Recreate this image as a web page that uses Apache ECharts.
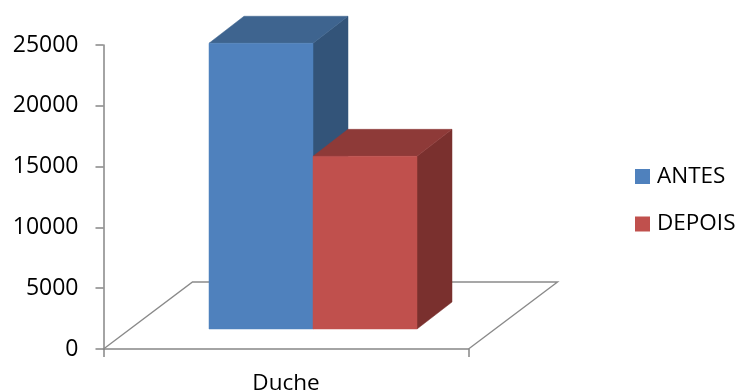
<!DOCTYPE html>
<html>
<head>
<meta charset="utf-8">
<style>html,body{margin:0;padding:0;background:#fff}#c{width:738px;height:392px}</style>
<script src="https://cdn.jsdelivr.net/npm/echarts@6/dist/echarts.min.js"></script>
</head>
<body>
<div id="c"></div>
<script>
// Values and labels
const categories = ['Duche'];
const antes = [23500];
const depois = [14200];
const yMax = 25000;
const yStep = 5000;

// Oblique projection used for the floor and the boxes
const floorDepth = [89, -67];
const boxDepth = [35, -27];
const barShare = 104 / 365;

const shade = {
  antes: { front: '#4F81BD', top: '#3E648F', side: '#335479' },
  depois: { front: '#C0504D', top: '#8E3A38', side: '#7A302E' }
};

function poly(points, fill) {
  return { type: 'polygon', shape: { points }, style: { fill, stroke: fill, lineWidth: 0.5 } };
}

// One box: side 0 sits left of the category centre, side 1 right of it
function boxRenderer(side, colors) {
  return function (params, api) {
    const top = api.coord([api.value(0), api.value(1)]);
    const zero = api.coord([api.value(0), 0]);
    const band = api.size([1, 0])[0];
    const w = band * barShare;
    const inset = [(floorDepth[0] - boxDepth[0]) / 2, (floorDepth[1] - boxDepth[1]) / 2];
    const x0 = zero[0] + inset[0] + (side - 1) * w;
    const x1 = x0 + w;
    const yb = zero[1] + inset[1];
    const yt = top[1] + inset[1];
    const [dx, dy] = boxDepth;
    return {
      type: 'group',
      children: [
        poly([[x1, yt], [x1 + dx, yt + dy], [x1 + dx, yb + dy], [x1, yb]], colors.side),
        poly([[x0, yt], [x0 + dx, yt + dy], [x1 + dx, yt + dy], [x1, yt]], colors.top),
        poly([[x0, yt], [x1, yt], [x1, yb], [x0, yb]], colors.front)
      ]
    };
  };
}

// Back and right edges of the floor; the front edge is the category axis
function floorRenderer(params, api) {
  const c = api.coord([api.value(0), 0]);
  const band = api.size([1, 0])[0];
  const l = c[0] - band / 2;
  const r = c[0] + band / 2;
  const y = c[1];
  const [dx, dy] = floorDepth;
  return {
    type: 'polyline',
    shape: { points: [[l, y], [l + dx, y + dy], [r + dx, y + dy], [r, y]] },
    style: { fill: null, stroke: '#8A8A8A', lineWidth: 1.4 }
  };
}

const chart = echarts.init(document.getElementById('c'), null, { renderer: 'canvas' });
const font = '"Open Sans", sans-serif';

chart.setOption({
  animation: false,
  backgroundColor: '#ffffff',
  grid: { left: 103.5, top: 45, width: 365, height: 304, outerBoundsMode: 'none' },
  legend: {
    orient: 'vertical',
    left: 630,
    top: 160,
    itemWidth: 15,
    itemHeight: 15,
    itemGap: 24.5,
    icon: 'rect',
    data: ['ANTES', 'DEPOIS'],
    textStyle: { fontFamily: font, fontSize: 22.5, lineHeight: 20, color: '#000', padding: [2, 0, 0, 2] }
  },
  xAxis: {
    type: 'category',
    data: categories,
    axisLine: { lineStyle: { color: '#868686', width: 1.5 } },
    axisTick: { show: true, length: 8, lineStyle: { color: '#868686', width: 1.5 } },
    axisLabel: { fontFamily: font, fontSize: 22.5, color: '#000', margin: 23 }
  },
  yAxis: {
    type: 'value',
    min: 0,
    max: yMax,
    interval: yStep,
    splitLine: { show: false },
    axisLine: { show: true, lineStyle: { color: '#868686', width: 1.5 } },
    axisTick: { show: true, length: 8, lineStyle: { color: '#868686', width: 1.5 } },
    axisLabel: { fontFamily: font, fontSize: 23, color: '#000', margin: 25, padding: [6, 0, 0, 0], formatter: (v) => String(v) }
  },
  series: [
    { type: 'custom', name: 'floor', silent: true, renderItem: floorRenderer, data: [[0, 0]], z: 1 },
    {
      type: 'custom',
      name: 'ANTES',
      renderItem: boxRenderer(0, shade.antes),
      itemStyle: { color: shade.antes.front },
      data: antes.map((v, i) => [i, v]),
      z: 2
    },
    {
      type: 'custom',
      name: 'DEPOIS',
      renderItem: boxRenderer(1, shade.depois),
      itemStyle: { color: shade.depois.front },
      data: depois.map((v, i) => [i, v]),
      z: 3
    }
  ]
});
</script>
</body>
</html>
